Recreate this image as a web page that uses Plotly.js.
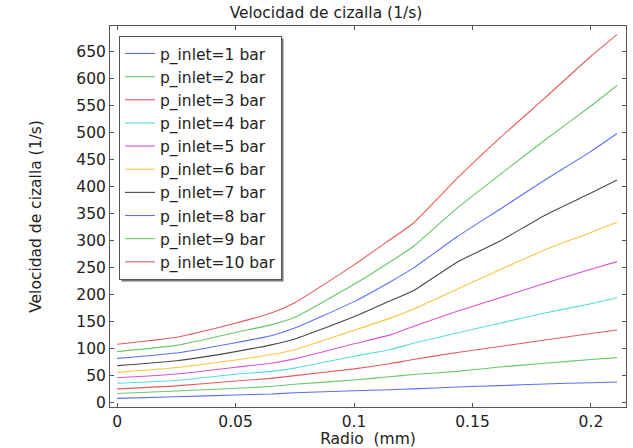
<!DOCTYPE html>
<html>
<head>
<meta charset="utf-8">
<script src="https://cdn.plot.ly/plotly-3.0.1.min.js"></script>
<style>html,body{margin:0;padding:0;background:#fff;}#chart{width:633px;height:448px;}</style>
</head>
<body>
<div id="chart"></div>
<script>
// Radius (mm)
const radio = [0, 0.025, 0.05, 0.065, 0.075, 0.1, 0.115, 0.125, 0.1435, 0.1616, 0.1806, 0.2, 0.211];
// Shear rate (1/s) per inlet pressure
const p1  = [8, 11, 14.3, 16, 18.5, 22, 24, 25.5, 29, 31.5, 34.6, 37, 38.3];
const p2  = [17, 21.5, 26.6, 30, 34, 42, 48, 52, 58, 66, 73, 80, 83.4];
const p3  = [25.5, 31, 40, 45, 50, 62.5, 72, 80, 93, 104, 116, 128, 134.6];
const p4  = [36, 41, 52.5, 58, 64, 86, 98, 110, 129, 147, 166, 183, 194];
const p5  = [46, 53, 65.5, 73, 81, 109, 125, 141, 169, 194, 221, 247, 261];
const p6  = [56, 65, 79, 89, 98, 134, 156, 173, 210, 246, 283, 315, 334];
const p7  = [68.5, 77.5, 94.5, 107, 118, 159, 188, 207, 260, 299, 347, 388, 412];
const p8  = [82, 92, 111, 124, 138, 187, 223, 249, 307, 358, 412, 465, 498];
const p9  = [94.5, 106, 130, 144, 158, 219, 260, 289, 360, 422, 486, 549, 587];
const p10 = [108, 121, 147, 166, 185, 255, 301, 332, 415, 490, 564, 641, 681];
const seriesNames = ['p_inlet=1 bar','p_inlet=2 bar','p_inlet=3 bar','p_inlet=4 bar','p_inlet=5 bar','p_inlet=6 bar','p_inlet=7 bar','p_inlet=8 bar','p_inlet=9 bar','p_inlet=10 bar'];
const seriesValues = [p1,p2,p3,p4,p5,p6,p7,p8,p9,p10];
const colors = ['#5a70f2','#66c96a','#e65a5a','#55dcdc','#d655d6','#f7c640','#4a4a4a','#5a70f2','#66c96a','#e65a5a'];
const xTicks = [0, 0.05, 0.1, 0.15, 0.2];
const xTickText = ['0','0.05','0.1','0.15','0.2'];
const yTicks = [0,50,100,150,200,250,300,350,400,450,500,550,600,650];

const font = {family: 'DejaVu Sans, sans-serif', size: 15.5, color: '#222'};
const traces = seriesValues.map((v, i) => ({
  x: radio, y: v, type: 'scatter', mode: 'lines', name: seriesNames[i],
  legendgroup: 'g' + i,
  line: {color: colors[i], width: 1.1, shape: 'spline', smoothing: 0.5}
}));

const axisCommon = {
  showgrid: false, zeroline: false, showline: true, mirror: 'ticks',
  linecolor: '#555', linewidth: 1, ticks: 'inside', ticklen: 4, tickcolor: '#555',
  tickfont: font
};

// legend drop shadow (paper coordinates of a 2px offset box)
const px2x = p => (p - 110) / 516;
const px2y = p => (407 - p) / 381;

const layout = {
  width: 633, height: 448,
  margin: {l: 110, r: 7, t: 26, b: 41},
  paper_bgcolor: '#fff', plot_bgcolor: '#fff',
  font: font,
  title: {text: 'Velocidad de cizalla (1/s)', font: font, x: 0.515, xanchor: 'center', y: 0.972, yanchor: 'middle'},
  xaxis: Object.assign({}, axisCommon, {
    range: [-0.003, 0.2148], tickvals: xTicks, ticktext: xTickText,
    title: {text: 'Radio\u00a0 (mm)', font: font, standoff: 1}
  }),
  yaxis: Object.assign({}, axisCommon, {
    range: [-8, 697], tickvals: yTicks,
    title: {text: 'Velocidad de cizalla (1/s)', font: font, standoff: 30}
  }),
  showlegend: true,
  legend: {
    x: 0.0174, y: 0.974, xanchor: 'left', yanchor: 'top',
    bgcolor: '#fff', bordercolor: '#555', borderwidth: 1,
    font: font, tracegroupgap: 0, traceorder: 'grouped', itemwidth: 30
  }
};

Plotly.newPlot('chart', traces, layout, {displayModeBar: false, staticPlot: true}).then(gd => {
  const bg = gd.querySelector('.legend .bg');
  if (!bg) return;
  const r = bg.getBoundingClientRect();
  const c = gd.getBoundingClientRect();
  const x0 = r.left - c.left + 2, x1 = r.right - c.left + 2;
  const y0 = r.top - c.top + 2, y1 = r.bottom - c.top + 2;
  Plotly.relayout(gd, {shapes: [{
    type: 'rect', xref: 'paper', yref: 'paper',
    x0: px2x(x0), x1: px2x(x1), y0: px2y(y1), y1: px2y(y0),
    line: {width: 0}, fillcolor: '#777', layer: 'above'
  }]});
});
</script>
</body>
</html>
